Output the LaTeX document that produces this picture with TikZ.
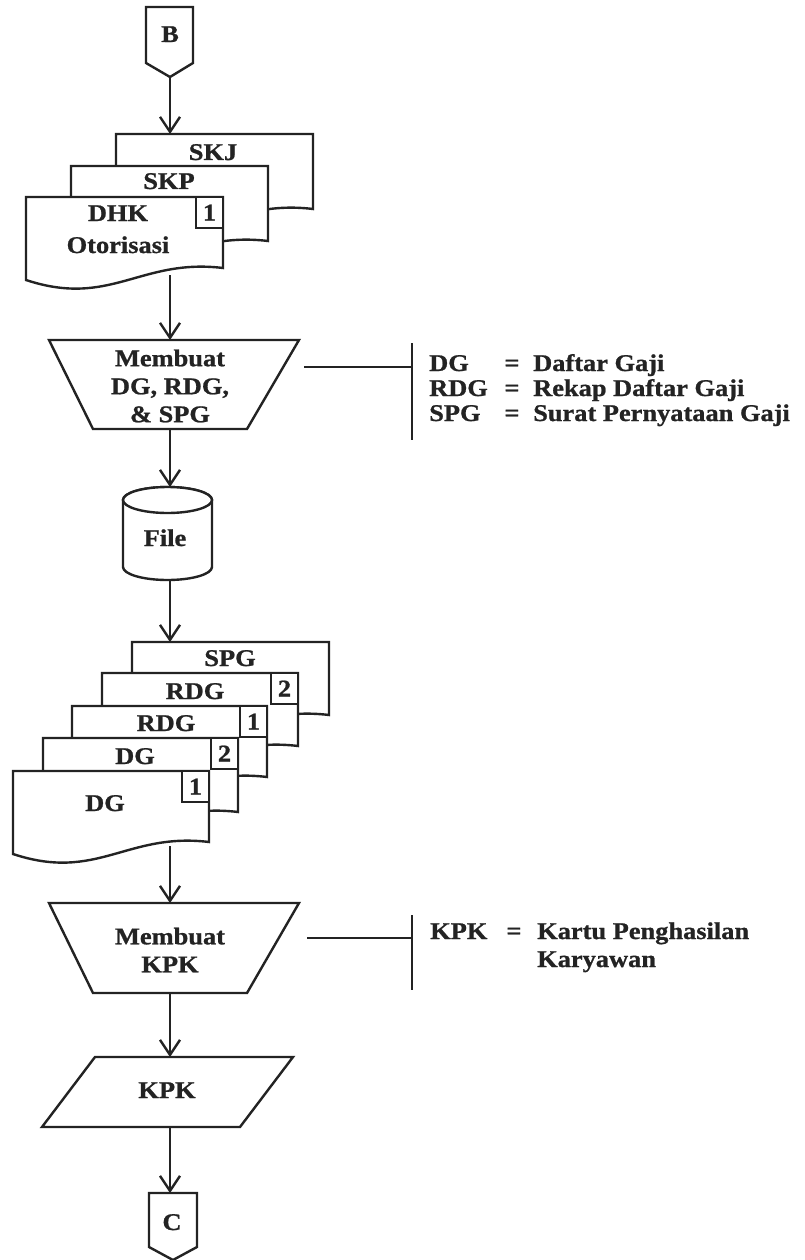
\documentclass[tikz,border=0pt]{standalone}
\usepackage{fontspec}
\setmainfont{Liberation Serif}[FakeStretch=1.1, BoldFeatures={FakeBold=0.9}]
\usetikzlibrary{arrows.meta}
\definecolor{ink}{RGB}{35,35,35}

% document symbol: left, top, right, bottom-right (wavy lower edge)
\newcommand\docpath[4]{%
  \draw[shapeline] (#1,#2) -- (#3,#2) -- (#3,#4)
    .. controls ({#3-0.42*(#3-#1)},{#4-10}) and ({#3-0.57*(#3-#1)},{#4+40}) ..
    (#1,{#4+12}) -- cycle;}
% numbered tag in the upper right corner of a document: name, top, right, digit
\newcommand\numtag[4]{%
  \draw[shapeline] ({#3-27},#2) rectangle (#3,{#2+31});
  \node[lbl] (#1) at ({#3-13.5},{#2+23.5}) {#4};}

\begin{document}
\begin{tikzpicture}[x=1pt,y=-1pt,
  shapeline/.style={draw=ink, line width=2.4pt, fill=white, line join=miter},
  flow/.style={draw=ink, line width=2.4pt,
    -{Straight Barb[length=15pt,width=20pt,line width=2.4pt]}},
  noteline/.style={draw=ink, line width=1.6pt},
  lbl/.style={text=ink, font=\fontsize{24}{28}\bfseries\selectfont,
    inner sep=0pt, anchor=base},
  blk/.style={text=ink, font=\fontsize{24}{28}\bfseries\selectfont,
    inner sep=0pt, align=center},
  note/.style={text=ink, font=\fontsize{24}{25}\bfseries\selectfont,
    inner sep=0pt, anchor=base west},
]
\useasboundingbox[fill=white] (0,0) rectangle (804,1260);

% ---- off-page connector B
\draw[shapeline] (146,7) -- (193,7) -- (193,63) -- (170,77) -- (146,63) -- cycle;
\node[lbl] (B) at (170,42) {B};
\coordinate (B-tip) at (170,77);

% ---- input documents
\docpath{116}{134}{313}{209}
\node[lbl] (skj) at (213,160) {SKJ};
\docpath{71}{166}{268}{241}
\node[lbl] (skp) at (169,189) {SKP};
\docpath{26}{197}{223}{268}
\node[lbl] (dhk) at (118,221) {DHK};
\node[lbl] (otor) at (118,253) {Otorisasi};
\numtag{dhk-n}{197}{223}{1}
\coordinate (skj-top) at (170,134);
\coordinate (dhk-bot) at (170,275);

% ---- manual process 1
\draw[shapeline] (49,340) -- (299,340) -- (247,429) -- (93,429) -- cycle;
\node[blk] (proc1) at (170,386) {Membuat\\DG, RDG,\\\& SPG};
\coordinate (p1-top) at (170,340);
\coordinate (p1-bot) at (170,429);

% ---- annotation 1
\coordinate (n1-a) at (304,367);
\coordinate (n1-b) at (412,367);
\coordinate (n1-t) at (412,343);
\coordinate (n1-u) at (412,440);
\draw[noteline] (n1-a) -- (n1-b);
\draw[noteline] (n1-t) -- (n1-u);
\node[note] (ab1) at (429,371) {DG};
\node[note] (ab2) at (429,396) {RDG};
\node[note] (ab3) at (429,421) {SPG};
\node[lbl] (eq1) at (512,371) {=};
\node[lbl] (eq2) at (512,396) {=};
\node[lbl] (eq3) at (512,421) {=};
\node[note] (df1) at (533,371) {Daftar Gaji};
\node[note] (df2) at (533,396) {Rekap Daftar Gaji};
\node[note] (df3) at (533,421) {Surat Pernyataan Gaji};

% ---- file storage
\draw[shapeline] (123,500) -- (123,567)
  arc[start angle=180, end angle=0, x radius=44.5, y radius=13] -- (212,500)
  arc[start angle=0, end angle=-180, x radius=44.5, y radius=13] -- cycle;
\draw[shapeline] (167.5,500) ellipse[x radius=44.5, y radius=13];
\node[lbl] (file) at (165,546) {File};
\coordinate (file-top) at (170,487);
\coordinate (file-bot) at (170,580);

% ---- output documents
\docpath{132}{642}{329}{715}
\node[lbl] (spg) at (230,666) {SPG};
\docpath{102}{673}{298}{746}
\node[lbl] (rdg2) at (195,699) {RDG};
\numtag{rdg2-n}{673}{298}{2}
\docpath{72}{706}{267}{777}
\node[lbl] (rdg1) at (166,731) {RDG};
\numtag{rdg1-n}{706}{267}{1}
\docpath{43}{738}{238}{812}
\node[lbl] (dg2) at (135,764) {DG};
\numtag{dg2-n}{738}{238}{2}
\docpath{13}{771}{209}{842}
\node[lbl] (dg1) at (105,811) {DG};
\numtag{dg1-n}{771}{209}{1}
\coordinate (spg-top) at (170,642);
\coordinate (dg1-bot) at (170,846);

% ---- manual process 2
\draw[shapeline] (49,903) -- (299,903) -- (247,993) -- (93,993) -- cycle;
\node[blk] (proc2) at (170,950) {Membuat\\KPK};
\coordinate (p2-top) at (170,903);
\coordinate (p2-bot) at (170,993);

% ---- annotation 2
\coordinate (n2-a) at (307,938);
\coordinate (n2-b) at (412,938);
\coordinate (n2-t) at (412,915);
\coordinate (n2-u) at (412,990);
\draw[noteline] (n2-a) -- (n2-b);
\draw[noteline] (n2-t) -- (n2-u);
\node[note] (ab4) at (430,939) {KPK};
\node[lbl] (eq4) at (514,939) {=};
\node[note] (df4) at (537,939) {Kartu Penghasilan};
\node[note] (df5) at (537,967) {Karyawan};

% ---- data output KPK
\draw[shapeline] (95,1057) -- (293,1057) -- (240,1127) -- (42,1127) -- cycle;
\node[lbl] (kpk) at (167,1098) {KPK};
\coordinate (kpk-top) at (170,1057);
\coordinate (kpk-bot) at (170,1127);

% ---- off-page connector C
\draw[shapeline] (149,1193) -- (197,1193) -- (197,1247) -- (173,1260) -- (149,1247) -- cycle;
\node[lbl] (C) at (172,1230) {C};
\coordinate (C-top) at (170,1193);

% ---- flow lines
\draw[flow] (B-tip) -- (skj-top);
\draw[flow] (dhk-bot) -- (p1-top);
\draw[flow] (p1-bot) -- (file-top);
\draw[flow] (file-bot) -- (spg-top);
\draw[flow] (dg1-bot) -- (p2-top);
\draw[flow] (p2-bot) -- (kpk-top);
\draw[flow] (kpk-bot) -- (C-top);
\end{tikzpicture}
\end{document}
